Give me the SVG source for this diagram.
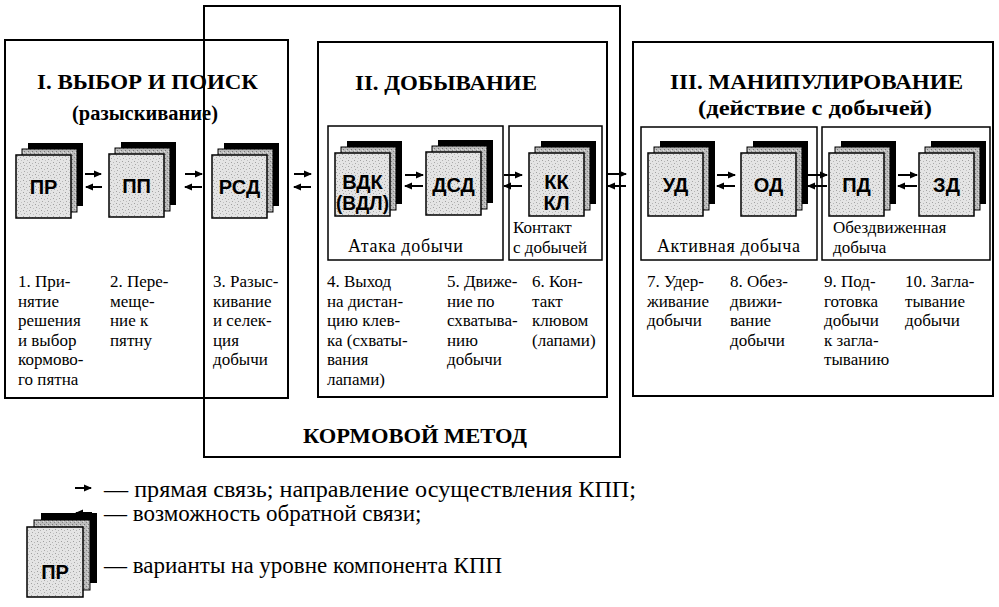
<svg xmlns="http://www.w3.org/2000/svg" xmlns:xlink="http://www.w3.org/1999/xlink" width="999" height="607" viewBox="0 0 999 607">
<style>
.box{fill:none;stroke:#000;stroke-width:2}
.ibox{fill:none;stroke:#000;stroke-width:1.5}
.h{font-family:"Liberation Serif","Times New Roman",serif;font-weight:bold;fill:#000}
.t{font-family:"Liberation Serif","Times New Roman",serif;font-size:18px;fill:#000}
.d{font-family:"Liberation Serif","Times New Roman",serif;font-size:17px;fill:#000}
.lg{font-family:"Liberation Serif","Times New Roman",serif;font-size:23px;fill:#000}
.c{font-family:"Liberation Sans",Arial,sans-serif;font-weight:bold;font-size:20px;fill:#000;text-anchor:middle}
.ar{stroke:#000;stroke-width:2;fill:none;marker-end:url(#ah)}
</style>
<defs>
<pattern id="st1" width="6" height="6" patternUnits="userSpaceOnUse">
<rect width="6" height="6" fill="#e4e4e4"/>
<rect x="1" y="1" width="1" height="1" fill="#a0a0a0"/>
<rect x="4" y="2" width="1" height="1" fill="#b4b4b4"/>
<rect x="2" y="4" width="1" height="1" fill="#a8a8a8"/>
<rect x="5" y="5" width="1" height="1" fill="#c0c0c0"/>
</pattern>
<pattern id="st2" width="4" height="4" patternUnits="userSpaceOnUse">
<rect width="4" height="4" fill="#bcbcbc"/>
<rect x="0" y="0" width="1" height="1" fill="#787878"/>
<rect x="2" y="2" width="1" height="1" fill="#848484"/>
<rect x="3" y="1" width="1" height="1" fill="#e0e0e0"/>
</pattern>
<g id="stack">
<rect x="12" y="-12" width="55" height="63" fill="#000"/>
<rect x="6" y="-6" width="55" height="63" fill="url(#st2)" stroke="#000" stroke-width="1"/>
<rect x="0" y="0" width="55" height="63" fill="url(#st1)" stroke="#000" stroke-width="1.5"/>
</g>
<marker id="ah" markerWidth="8" markerHeight="8" refX="7" refY="4" orient="auto" markerUnits="userSpaceOnUse">
<path d="M0,0.5 L8,4 L0,7.5 z" fill="#000"/>
</marker>
</defs>
<rect width="999" height="607" fill="#fff"/>

<g id="frames">
<rect class="box" x="204" y="6" width="416" height="451"/>
<rect class="box" x="5" y="40" width="283" height="358"/>
<rect class="box" x="318" y="42" width="289" height="355"/>
<rect class="box" x="633" y="42" width="360" height="354"/>
<rect class="ibox" x="328" y="126" width="175" height="134"/>
<rect class="ibox" x="509" y="126" width="93" height="134"/>
<rect class="ibox" x="641" y="127" width="176" height="133"/>
<rect class="ibox" x="822" y="127" width="168" height="133"/>
</g>

<g id="titles">
<text class="h" x="37" y="89" font-size="22" textLength="221" lengthAdjust="spacingAndGlyphs">I. ВЫБОР И ПОИСК</text>
<text class="h" x="72" y="120" font-size="20" textLength="146" lengthAdjust="spacingAndGlyphs">(разыскивание)</text>
<text class="h" x="355" y="90" font-size="22" textLength="182" lengthAdjust="spacingAndGlyphs">II. ДОБЫВАНИЕ</text>
<text class="h" x="670" y="89" font-size="22" textLength="293" lengthAdjust="spacingAndGlyphs">III. МАНИПУЛИРОВАНИЕ</text>
<text class="h" x="698" y="115" font-size="20" textLength="234" lengthAdjust="spacingAndGlyphs">(действие с добычей)</text>
<text class="h" x="303" y="443" font-size="22" textLength="224" lengthAdjust="spacingAndGlyphs">КОРМОВОЙ МЕТОД</text>
<text class="t" x="348" y="252" textLength="115" lengthAdjust="spacing">Атака добычи</text>
<text class="d" x="513" y="233">Контакт<tspan x="513" dy="20">с добычей</tspan></text>
<text class="t" x="657" y="252" textLength="143" lengthAdjust="spacing">Активная добыча</text>
<text class="d" x="833" y="233">Обездвиженная<tspan x="833" dy="20">добыча</tspan></text>
</g>

<g id="node-pr"><use xlink:href="#stack" x="16" y="155"/><text class="c" x="43.5" y="194">ПР</text></g>
<g id="node-pp"><use xlink:href="#stack" x="109" y="154"/><text class="c" x="136.5" y="193">ПП</text></g>
<g id="node-rsd"><use xlink:href="#stack" x="212" y="155"/><text class="c" x="239.5" y="194">РСД</text></g>
<g id="node-vdk"><use xlink:href="#stack" x="335" y="153"/><text class="c" x="362.5" y="189">ВДК<tspan x="362.5" dy="21" textLength="53" lengthAdjust="spacingAndGlyphs">(ВДЛ)</tspan></text></g>
<g id="node-dsd"><use xlink:href="#stack" x="426" y="152"/><text class="c" x="453.5" y="192">ДСД</text></g>
<g id="node-kk"><use xlink:href="#stack" x="529" y="153"/><text class="c" x="556.5" y="189">КК<tspan x="556.5" dy="21">КЛ</tspan></text></g>
<g id="node-ud"><use xlink:href="#stack" x="648" y="153"/><text class="c" x="675.5" y="192">УД</text></g>
<g id="node-od"><use xlink:href="#stack" x="741" y="153"/><text class="c" x="768.5" y="192">ОД</text></g>
<g id="node-pd"><use xlink:href="#stack" x="829" y="153"/><text class="c" x="856.5" y="192">ПД</text></g>
<g id="node-zd"><use xlink:href="#stack" x="919" y="153"/><text class="c" x="946.5" y="192">ЗД</text></g>

<g id="connectors">
<path class="ar" d="M85,174 H101"/><path class="ar" d="M102,187 H86"/>
<path class="ar" d="M185,174 H202"/><path class="ar" d="M202,187 H185"/>
<path class="ar" d="M294,174 H311"/><path class="ar" d="M311,187 H294"/>
<path class="ar" d="M405,175 H423"/><path class="ar" d="M423,186 H405"/>
<path class="ar" d="M504,175 H522"/><path class="ar" d="M522,186 H504"/>
<path class="ar" d="M608,174 H626"/><path class="ar" d="M626,186 H608"/>
<path class="ar" d="M717,175 H735"/><path class="ar" d="M735,186 H717"/>
<path class="ar" d="M808,175 H827"/><path class="ar" d="M827,186 H808"/>
<path class="ar" d="M898,175 H917"/><path class="ar" d="M917,186 H898"/>
</g>

<g id="descriptions">
<text class="d" x="18" y="287">1. При-<tspan x="18" dy="19.5">нятие</tspan><tspan x="18" dy="19.5">решения</tspan><tspan x="18" dy="19.5">и выбор</tspan><tspan x="18" dy="19.5">кормово-</tspan><tspan x="18" dy="19.5">го пятна</tspan></text>
<text class="d" x="110" y="287">2. Пере-<tspan x="110" dy="19.5">меще-</tspan><tspan x="110" dy="19.5">ние к</tspan><tspan x="110" dy="19.5">пятну</tspan></text>
<text class="d" x="213" y="287">3. Разыс-<tspan x="213" dy="19.5">кивание</tspan><tspan x="213" dy="19.5">и селек-</tspan><tspan x="213" dy="19.5">ция</tspan><tspan x="213" dy="19.5">добычи</tspan></text>
<text class="d" x="327" y="287">4. Выход<tspan x="327" dy="19.5">на дистан-</tspan><tspan x="327" dy="19.5">цию клев-</tspan><tspan x="327" dy="19.5">ка (схваты-</tspan><tspan x="327" dy="19.5">вания</tspan><tspan x="327" dy="19.5">лапами)</tspan></text>
<text class="d" x="447" y="287">5. Движе-<tspan x="447" dy="19.5">ние по</tspan><tspan x="447" dy="19.5">схватыва-</tspan><tspan x="447" dy="19.5">нию</tspan><tspan x="447" dy="19.5">добычи</tspan></text>
<text class="d" x="532" y="287">6. Кон-<tspan x="532" dy="19.5">такт</tspan><tspan x="532" dy="19.5">клювом</tspan><tspan x="532" dy="19.5">(лапами)</tspan></text>
<text class="d" x="647" y="287">7. Удер-<tspan x="647" dy="19.5">живание</tspan><tspan x="647" dy="19.5">добычи</tspan></text>
<text class="d" x="730" y="287">8. Обез-<tspan x="730" dy="19.5">движи-</tspan><tspan x="730" dy="19.5">вание</tspan><tspan x="730" dy="19.5">добычи</tspan></text>
<text class="d" x="824" y="287">9. Под-<tspan x="824" dy="19.5">готовка</tspan><tspan x="824" dy="19.5">добычи</tspan><tspan x="824" dy="19.5">к загла-</tspan><tspan x="824" dy="19.5">тыванию</tspan></text>
<text class="d" x="905" y="287">10. Загла-<tspan x="905" dy="19.5">тывание</tspan><tspan x="905" dy="19.5">добычи</tspan></text>
</g>

<g id="legend">
<path class="ar" d="M75,488 H91"/>
<path class="ar" d="M92,513 H76"/>
<rect x="41" y="513" width="56" height="70" fill="#000"/>
<rect x="34" y="520" width="56" height="70" fill="url(#st2)" stroke="#000" stroke-width="1"/>
<rect x="27" y="527" width="56" height="70" fill="url(#st1)" stroke="#000" stroke-width="1.5"/>
<text class="c" x="55" y="579">ПР</text>
<text class="lg" x="104" y="497" textLength="532" lengthAdjust="spacingAndGlyphs">— прямая связь; направление осуществления КПП;</text>
<text class="lg" x="104" y="521">— возможность обратной связи;</text>
<text class="lg" x="104" y="573">— варианты на уровне компонента КПП</text>
</g>
</svg>
